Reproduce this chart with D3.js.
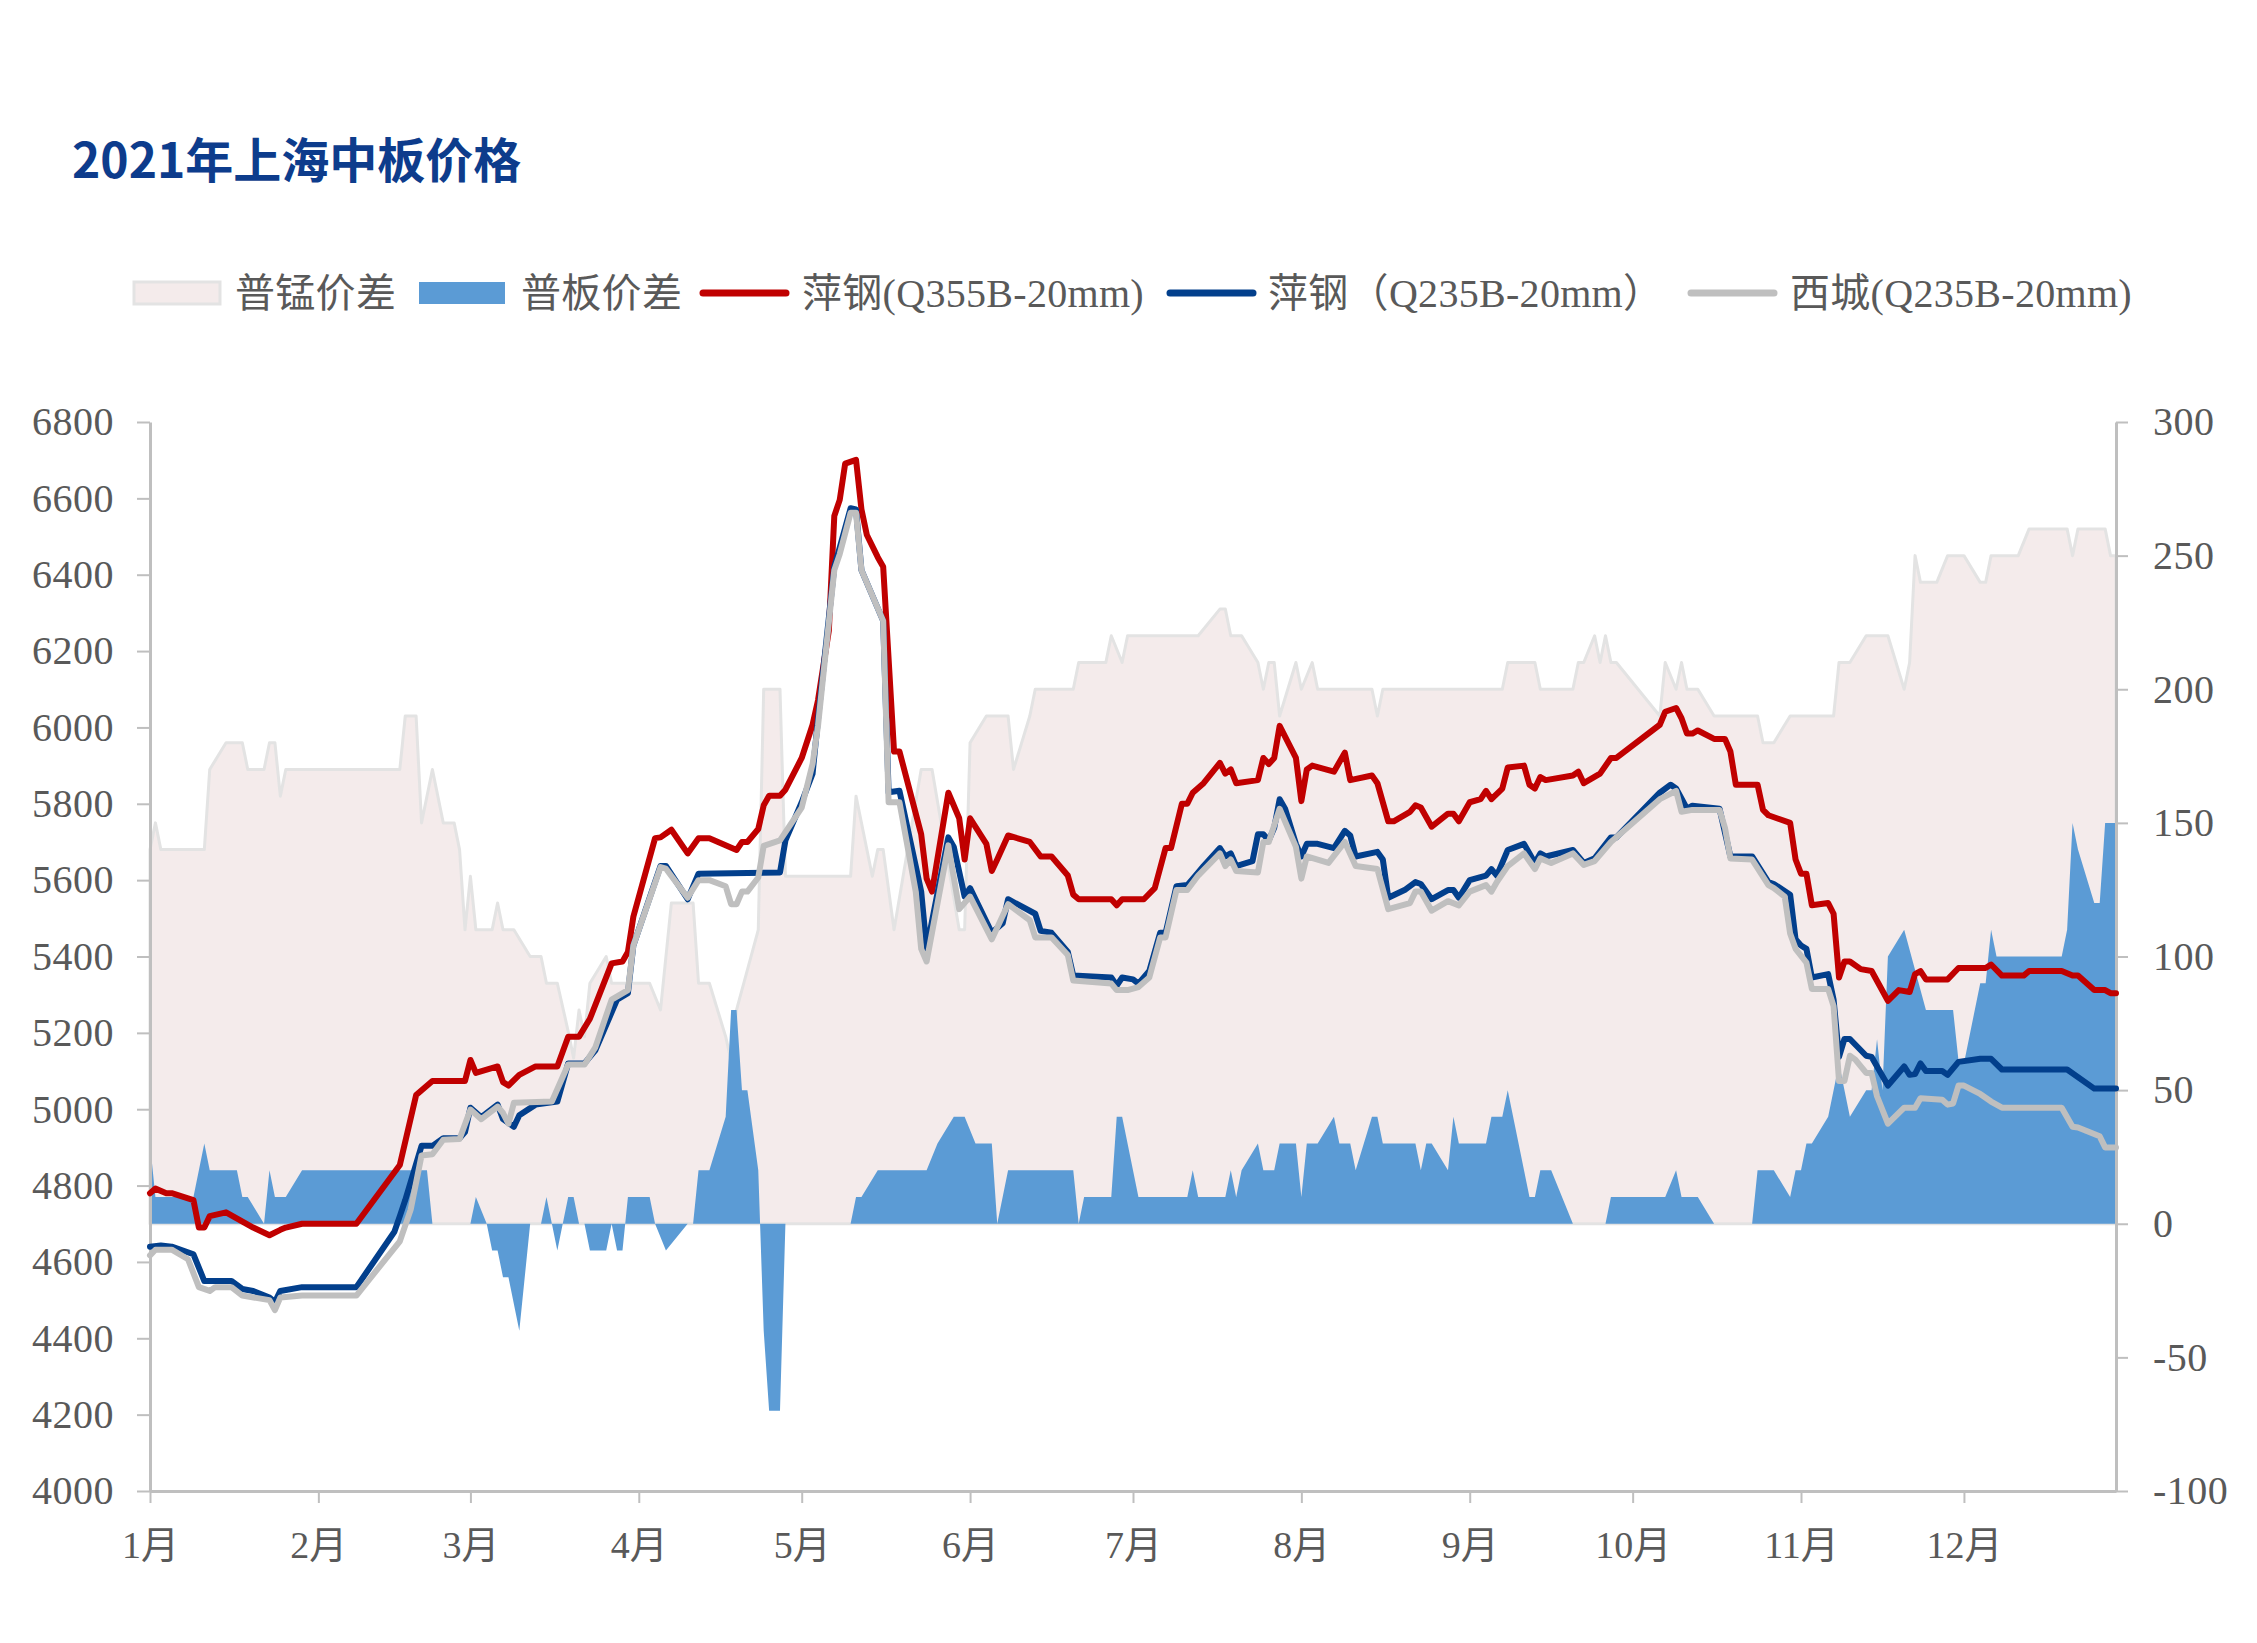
<!DOCTYPE html>
<html>
<head>
<meta charset="utf-8">
<title>2021年上海中板价格</title>
<script src="https://cdn.jsdelivr.net/npm/d3@7"></script>
<style>
  body { margin: 0; background: #fff; }
  svg { display: block; }
  .axis text { font-family: "Liberation Serif", "Noto Sans CJK SC", serif; fill: #595959; }
  .legend text { font-family: "Liberation Serif", "Noto Sans CJK SC", serif; fill: #595959; font-size: 40px; letter-spacing: 0.3px; }
</style>
</head>
<body>
<svg id="chart" width="2257" height="1643"></svg>
<script>
// ---- data (month/day of 2021) ----
var seriesNames = ["普锰价差", "普板价差", "萍钢(Q355B-20mm)", "萍钢（Q235B-20mm）", "西城(Q235B-20mm)"];
var leftTicks = [4000, 4200, 4400, 4600, 4800, 5000, 5200, 5400, 5600, 5800, 6000, 6200, 6400, 6600, 6800];
var rightTicks = [-100, -50, 0, 50, 100, 150, 200, 250, 300];

// 萍钢(Q355B-20mm), left axis
var q355 = [["1/1",4780],["1/2",4792],["1/4",4780],["1/5",4780],["1/9",4762],["1/10",4690],["1/11",4690],["1/12",4720],["1/15",4730],["1/20",4690],["1/23",4670],["1/25",4684],["1/26",4690],["1/29",4700],["2/8",4700],["2/16",4854],["2/19",5037],["2/22",5074],["2/28",5074],["3/1",5129],["3/2",5095],["3/6",5112],["3/7",5071],["3/8",5062],["3/10",5090],["3/13",5112],["3/17",5112],["3/19",5190],["3/21",5190],["3/23",5237],["3/27",5382],["3/29",5387],["3/30",5412],["3/31",5504],["4/4",5710],["4/5",5712],["4/7",5732],["4/10",5670],["4/12",5710],["4/14",5710],["4/19",5679],["4/20",5700],["4/21",5700],["4/23",5734],["4/24",5796],["4/25",5821],["4/27",5821],["4/28",5837],["5/1",5920],["5/3",6007],["5/4",6071],["5/6",6254],["5/7",6554],["5/8",6596],["5/9",6691],["5/11",6701],["5/12",6571],["5/13",6504],["5/15",6446],["5/16",6421],["5/18",5937],["5/19",5937],["5/23",5720],["5/24",5604],["5/25",5570],["5/28",5829],["5/30",5762],["5/31",5654],["6/1",5762],["6/4",5695],["6/5",5624],["6/6",5654],["6/8",5717],["6/12",5700],["6/14",5662],["6/16",5662],["6/19",5612],["6/20",5562],["6/21",5550],["6/27",5550],["6/28",5534],["6/29",5550],["7/3",5550],["7/5",5579],["7/7",5684],["7/8",5684],["7/10",5800],["7/11",5800],["7/12",5829],["7/14",5854],["7/17",5907],["7/18",5879],["7/19",5890],["7/20",5854],["7/24",5862],["7/25",5920],["7/26",5904],["7/27",5920],["7/28",6004],["7/31",5920],["8/1",5807],["8/2",5890],["8/3",5900],["8/7",5884],["8/9",5934],["8/10",5862],["8/14",5874],["8/15",5854],["8/17",5754],["8/18",5754],["8/21",5779],["8/22",5796],["8/23",5790],["8/25",5740],["8/28",5774],["8/29",5774],["8/30",5754],["9/1",5804],["9/3",5812],["9/4",5834],["9/5",5812],["9/7",5840],["9/8",5895],["9/11",5900],["9/12",5850],["9/13",5840],["9/14",5870],["9/15",5862],["9/20",5874],["9/21",5884],["9/22",5854],["9/25",5879],["9/27",5920],["9/28",5920],["10/6",6007],["10/7",6041],["10/9",6051],["10/10",6024],["10/11",5984],["10/12",5984],["10/13",5992],["10/16",5970],["10/18",5970],["10/19",5937],["10/20",5850],["10/24",5850],["10/25",5784],["10/26",5770],["10/30",5750],["10/31",5654],["11/1",5617],["11/2",5617],["11/3",5534],["11/6",5540],["11/7",5512],["11/8",5345],["11/9",5387],["11/10",5387],["11/12",5367],["11/14",5362],["11/17",5284],["11/19",5312],["11/21",5307],["11/22",5354],["11/23",5362],["11/24",5340],["11/28",5340],["11/30",5370],["12/5",5370],["12/6",5379],["12/8",5350],["12/12",5350],["12/13",5362],["12/19",5362],["12/21",5350],["12/22",5350],["12/25",5312],["12/27",5312],["12/28",5304],["12/29",5304]];

// 萍钢（Q235B-20mm）, left axis
var q235 = [["1/1",4640],["1/3",4643],["1/5",4640],["1/9",4620],["1/11",4550],["1/16",4550],["1/18",4529],["1/20",4524],["1/23",4507],["1/24",4495],["1/25",4524],["1/29",4534],["2/8",4534],["2/15",4679],["2/16",4720],["2/17",4762],["2/20",4904],["2/22",4904],["2/24",4924],["2/27",4924],["2/28",4940],["3/1",5004],["3/3",4979],["3/6",5012],["3/7",4974],["3/9",4954],["3/10",4984],["3/13",5012],["3/17",5020],["3/19",5120],["3/22",5120],["3/24",5154],["3/28",5287],["3/30",5304],["3/31",5429],["4/5",5637],["4/6",5637],["4/10",5550],["4/12",5617],["4/27",5620],["4/28",5704],["5/1",5804],["5/3",5879],["5/4",6021],["5/7",6421],["5/8",6471],["5/10",6574],["5/11",6571],["5/12",6412],["5/16",6279],["5/17",5830],["5/19",5834],["5/22",5637],["5/23",5570],["5/24",5420],["5/28",5712],["5/29",5687],["5/31",5557],["6/1",5579],["6/5",5462],["6/7",5487],["6/8",5550],["6/13",5512],["6/14",5467],["6/16",5462],["6/19",5412],["6/20",5350],["6/27",5345],["6/28",5324],["6/29",5345],["7/1",5340],["7/2",5329],["7/4",5362],["7/6",5462],["7/7",5462],["7/9",5584],["7/11",5587],["7/13",5620],["7/14",5637],["7/17",5684],["7/18",5662],["7/19",5670],["7/20",5637],["7/23",5650],["7/24",5720],["7/25",5720],["7/26",5704],["7/27",5737],["7/28",5812],["7/29",5787],["7/31",5695],["8/1",5662],["8/2",5695],["8/4",5695],["8/7",5684],["8/9",5729],["8/10",5717],["8/11",5662],["8/15",5674],["8/16",5654],["8/17",5554],["8/20",5574],["8/22",5595],["8/23",5590],["8/25",5550],["8/28",5574],["8/29",5574],["8/30",5554],["9/1",5600],["9/4",5612],["9/5",5629],["9/6",5612],["9/8",5679],["9/11",5695],["9/13",5645],["9/14",5670],["9/15",5662],["9/20",5679],["9/22",5645],["9/24",5657],["9/27",5712],["9/28",5712],["10/6",5829],["10/8",5850],["10/9",5840],["10/11",5787],["10/12",5795],["10/17",5787],["10/19",5662],["10/23",5662],["10/26",5595],["10/27",5590],["10/30",5562],["10/31",5445],["11/1",5429],["11/2",5420],["11/3",5345],["11/6",5354],["11/7",5287],["11/8",5137],["11/9",5184],["11/10",5184],["11/13",5140],["11/14",5137],["11/15",5112],["11/17",5062],["11/20",5112],["11/21",5090],["11/22",5092],["11/23",5120],["11/24",5100],["11/27",5100],["11/28",5090],["11/30",5124],["12/4",5132],["12/6",5132],["12/8",5104],["12/20",5104],["12/25",5054],["12/29",5054]];

// 西城(Q235B-20mm), left axis
var xicheng = [["1/1",4617],["1/2",4632],["1/5",4632],["1/8",4607],["1/10",4534],["1/12",4524],["1/13",4534],["1/16",4534],["1/18",4512],["1/23",4500],["1/24",4474],["1/25",4507],["1/29",4512],["2/8",4512],["2/16",4654],["2/18",4737],["2/20",4879],["2/22",4882],["2/24",4920],["2/27",4922],["3/1",4999],["3/3",4974],["3/6",5007],["3/7",4990],["3/8",4962],["3/9",5017],["3/16",5020],["3/19",5117],["3/22",5117],["3/24",5162],["3/27",5287],["3/30",5312],["3/31",5429],["4/5",5634],["4/6",5630],["4/10",5554],["4/12",5600],["4/14",5600],["4/17",5584],["4/18",5537],["4/19",5537],["4/20",5570],["4/21",5570],["4/23",5607],["4/24",5690],["4/27",5704],["5/1",5790],["5/3",5904],["5/4",6004],["5/7",6412],["5/8",6454],["5/10",6562],["5/11",6562],["5/12",6412],["5/16",6279],["5/17",5804],["5/19",5804],["5/22",5570],["5/23",5420],["5/24",5387],["5/28",5691],["5/30",5524],["6/1",5557],["6/5",5445],["6/8",5537],["6/12",5495],["6/13",5450],["6/16",5450],["6/19",5404],["6/20",5337],["6/27",5329],["6/28",5312],["6/30",5312],["7/2",5320],["7/4",5345],["7/6",5450],["7/7",5450],["7/9",5574],["7/11",5574],["7/13",5612],["7/17",5670],["7/18",5637],["7/19",5654],["7/20",5624],["7/24",5620],["7/25",5700],["7/26",5700],["7/28",5787],["7/31",5687],["8/1",5604],["8/2",5662],["8/6",5645],["8/9",5700],["8/11",5637],["8/15",5629],["8/17",5524],["8/21",5540],["8/22",5570],["8/23",5570],["8/25",5520],["8/28",5545],["8/30",5534],["9/1",5570],["9/4",5587],["9/5",5570],["9/6",5595],["9/8",5637],["9/11",5670],["9/13",5629],["9/14",5657],["9/16",5645],["9/20",5670],["9/22",5640],["9/24",5650],["9/27",5700],["10/6",5812],["10/9",5834],["10/10",5779],["10/12",5784],["10/17",5784],["10/18",5737],["10/19",5657],["10/23",5654],["10/26",5587],["10/27",5579],["10/29",5557],["10/30",5460],["10/31",5420],["11/2",5384],["11/3",5315],["11/6",5315],["11/7",5270],["11/8",5074],["11/9",5074],["11/10",5140],["11/11",5130],["11/13",5095],["11/14",5095],["11/15",5034],["11/17",4962],["11/20",5004],["11/22",5004],["11/23",5029],["11/27",5025],["11/28",5012],["11/29",5015],["11/30",5062],["12/1",5062],["12/4",5040],["12/6",5020],["12/8",5004],["12/19",5004],["12/20",4979],["12/21",4954],["12/22",4952],["12/26",4929],["12/27",4900],["12/29",4900]];

// 普锰价差, right axis
var mnSpread = [["1/1",140],["1/2",150],["1/3",140],["1/11",140],["1/12",170],["1/15",180],["1/18",180],["1/19",170],["1/22",170],["1/23",180],["1/24",180],["1/25",160],["1/26",170],["2/16",170],["2/17",190],["2/19",190],["2/20",150],["2/22",170],["2/24",150],["2/26",150],["2/27",140],["2/28",110],["3/1",130],["3/2",110],["3/5",110],["3/6",120],["3/7",110],["3/9",110],["3/12",100],["3/14",100],["3/15",90],["3/17",90],["3/19",72],["3/20",62],["3/21",80],["3/22",70],["3/23",90],["3/26",100],["3/27",90],["4/3",90],["4/5",80],["4/7",120],["4/11",120],["4/12",90],["4/14",90],["4/17",70],["4/18",61],["4/19",80],["4/23",110],["4/24",200],["4/27",200],["4/28",130],["5/10",130],["5/11",160],["5/14",130],["5/15",140],["5/16",140],["5/18",110],["5/23",170],["5/25",170],["5/30",110],["5/31",110],["6/1",180],["6/4",190],["6/8",190],["6/9",170],["6/12",190],["6/13",200],["6/20",200],["6/21",210],["6/26",210],["6/27",220],["6/29",210],["6/30",220],["7/13",220],["7/17",230],["7/18",230],["7/19",220],["7/21",220],["7/24",210],["7/25",200],["7/26",210],["7/27",210],["7/28",190],["7/31",210],["8/1",200],["8/3",210],["8/4",200],["8/14",200],["8/15",190],["8/16",200],["9/7",200],["9/8",210],["9/13",210],["9/14",200],["9/20",200],["9/21",210],["9/22",210],["9/24",220],["9/25",210],["9/26",220],["9/27",210],["9/28",210],["10/6",190],["10/7",210],["10/9",200],["10/10",210],["10/11",200],["10/13",200],["10/16",190],["10/24",190],["10/25",180],["10/27",180],["10/30",190],["11/7",190],["11/8",210],["11/10",210],["11/13",220],["11/17",220],["11/20",200],["11/21",210],["11/22",250],["11/23",240],["11/26",240],["11/28",250],["12/1",250],["12/4",240],["12/5",240],["12/6",250],["12/11",250],["12/13",260],["12/20",260],["12/21",250],["12/22",260],["12/27",260],["12/28",250],["12/29",250]];

// 普板价差, right axis
var plateSpread = [["1/1",30],["1/2",10],["1/9",10],["1/11",30],["1/12",20],["1/17",20],["1/18",10],["1/19",10],["1/22",0],["1/23",20],["1/24",10],["1/26",10],["1/29",20],["2/21",20],["2/22",0],["3/1",0],["3/2",10],["3/4",0],["3/5",-10],["3/6",-10],["3/7",-20],["3/8",-20],["3/10",-40],["3/12",0],["3/14",0],["3/15",10],["3/17",-10],["3/19",10],["3/20",10],["3/21",0],["3/22",0],["3/23",-10],["3/26",-10],["3/27",0],["3/28",-10],["3/29",-10],["3/30",10],["4/3",10],["4/4",0],["4/6",-10],["4/10",0],["4/11",0],["4/12",20],["4/14",20],["4/17",40],["4/18",80],["4/19",80],["4/20",50],["4/21",50],["4/23",20],["4/24",-40],["4/25",-70],["4/27",-70],["4/28",0],["5/10",0],["5/11",10],["5/12",10],["5/15",20],["5/24",20],["5/26",30],["5/29",40],["5/31",40],["6/2",30],["6/5",30],["6/6",0],["6/8",20],["6/20",20],["6/21",0],["6/22",10],["6/27",10],["6/28",40],["6/29",40],["7/2",10],["7/11",10],["7/12",20],["7/13",10],["7/18",10],["7/19",20],["7/20",10],["7/21",20],["7/24",30],["7/25",20],["7/27",20],["7/28",30],["7/31",30],["8/1",10],["8/2",30],["8/4",30],["8/7",40],["8/8",30],["8/10",30],["8/11",20],["8/14",40],["8/15",40],["8/16",30],["8/22",30],["8/23",20],["8/24",30],["8/25",30],["8/28",20],["8/29",40],["8/30",30],["9/4",30],["9/5",40],["9/7",40],["9/8",50],["9/12",10],["9/13",10],["9/14",20],["9/16",20],["9/20",0],["9/26",0],["9/27",10],["10/7",10],["10/9",20],["10/10",10],["10/13",10],["10/16",0],["10/23",0],["10/24",20],["10/27",20],["10/30",10],["10/31",20],["11/1",20],["11/2",30],["11/3",30],["11/6",40],["11/7",50],["11/8",60],["11/10",40],["11/13",50],["11/14",50],["11/15",69],["11/16",50],["11/17",100],["11/20",110],["11/24",80],["11/29",80],["11/30",61],["12/1",60],["12/4",90],["12/5",90],["12/6",110],["12/7",100],["12/19",100],["12/20",110],["12/21",150],["12/22",140],["12/25",120],["12/26",120],["12/27",150],["12/29",150]];

function parseDay(s) {
  var p = s.split("/");
  return new Date(2021, +p[0] - 1, +p[1]);
}
function toPoints(arr) {
  return arr.map(function (d) { return { date: parseDay(d[0]), value: d[1] }; });
}

var colors = { mn: "#F4EBEB", mnLine: "#E3E3E3", plate: "#5B9BD5", red: "#C00000", navy: "#023F8C", grey: "#BFBFBF" };

var margin = { top: 422, right: 141, bottom: 152, left: 150 },
    W = 2257, H = 1643,
    width = W - margin.left - margin.right,
    height = H - margin.top - margin.bottom;

var svg = d3.select("#chart");

// title
svg.append("text")
  .attr("x", 72)
  .attr("y", 178)
  .style("font-family", "'Noto Sans CJK SC', 'Open Sans', sans-serif")
  .style("font-weight", "bold")
  .style("font-size", "48px")
  .style("fill", "#0D3C8C")
  .text("2021年上海中板价格");

var chart = svg.append("g")
  .attr("transform", "translate(" + margin.left + "," + margin.top + ")");

// scales
var x = d3.scaleTime()
  .domain([parseDay("1/1"), parseDay("12/29")])
  .range([0, width]);
var yL = d3.scaleLinear().domain([4000, 6800]).range([height, 0]);
var yR = d3.scaleLinear().domain([-100, 300]).range([height, 0]);

// areas on the right axis
var area = d3.area()
  .x(function (d) { return x(d.date); })
  .y0(yR(0))
  .y1(function (d) { return yR(d.value); });

chart.append("path")
  .datum(toPoints(mnSpread))
  .attr("d", area)
  .style("fill", colors.mn)
  .style("stroke", colors.mnLine)
  .style("stroke-width", 3)
  .style("stroke-linejoin", "round");

chart.append("path")
  .datum(toPoints(plateSpread))
  .attr("d", area)
  .style("fill", colors.plate)
  .style("stroke", "none");

// axes (plain numbers, ascii minus like the original)
var plain = function (d) { return String(d); };

var axisL = chart.append("g")
  .attr("class", "axis axis-left")
  .call(d3.axisLeft(yL).tickValues(leftTicks).tickFormat(plain).tickSize(13).tickSizeOuter(0).tickPadding(23));
axisL.selectAll("text").style("font-size", "40px").style("letter-spacing", "0.5px");

var axisR = chart.append("g")
  .attr("class", "axis axis-right")
  .attr("transform", "translate(" + width + ",0)")
  .call(d3.axisRight(yR).tickValues(rightTicks).tickFormat(plain).tickSize(12).tickSizeOuter(0).tickPadding(25));
axisR.selectAll("text").style("font-size", "40px").style("letter-spacing", "0.5px");

var axisX = chart.append("g")
  .attr("class", "axis axis-x")
  .attr("transform", "translate(0," + height + ")")
  .call(d3.axisBottom(x)
    .ticks(d3.timeMonth.every(1))
    .tickFormat(function (d) { return (d.getMonth() + 1) + "月"; })
    .tickSize(12)
    .tickSizeOuter(0));
axisX.selectAll("text")
  .attr("y", 67)
  .attr("dy", null)
  .style("font-size", "38px");

chart.selectAll(".axis .domain").style("stroke", "#BFBFBF").style("stroke-width", 3);
chart.selectAll(".axis .tick line").style("stroke", "#BFBFBF").style("stroke-width", 2);

// price lines
var line = d3.line()
  .x(function (d) { return x(d.date); })
  .y(function (d) { return yL(d.value); });

var lines = [
  { data: q355, color: colors.red, w: 6 },
  { data: q235, color: colors.navy, w: 6 },
  { data: xicheng, color: colors.grey, w: 6 }
];
lines.forEach(function (s) {
  chart.append("path")
    .datum(toPoints(s.data))
    .attr("d", line)
    .style("fill", "none")
    .style("stroke", s.color)
    .style("stroke-width", s.w)
    .style("stroke-linejoin", "round")
    .style("stroke-linecap", "round");
});

// legend
var legendItems = [
  { name: seriesNames[0], type: "box", fill: colors.mn, stroke: colors.mnLine, x: 134, tx: 235 },
  { name: seriesNames[1], type: "box", fill: colors.plate, stroke: "none", x: 419, tx: 521 },
  { name: seriesNames[2], type: "line", fill: colors.red, x: 700, tx: 802 },
  { name: seriesNames[3], type: "line", fill: colors.navy, x: 1167, tx: 1268 },
  { name: seriesNames[4], type: "line", fill: colors.grey, x: 1688, tx: 1790 }
];
var legend = svg.append("g").attr("class", "legend");
var ly = 293;
legendItems.forEach(function (it) {
  if (it.type === "box") {
    legend.append("rect")
      .attr("x", it.x).attr("y", ly - 11)
      .attr("width", 86).attr("height", 22)
      .style("fill", it.fill)
      .style("stroke", it.stroke)
      .style("stroke-width", 3);
  } else {
    legend.append("line")
      .attr("x1", it.x + 3).attr("x2", it.x + 86)
      .attr("y1", ly).attr("y2", ly)
      .style("stroke", it.fill)
      .style("stroke-width", 7)
      .style("stroke-linecap", "round");
  }
  legend.append("text")
    .attr("x", it.tx)
    .attr("y", ly + 14)
    .text(it.name);
});
</script>
</body>
</html>
